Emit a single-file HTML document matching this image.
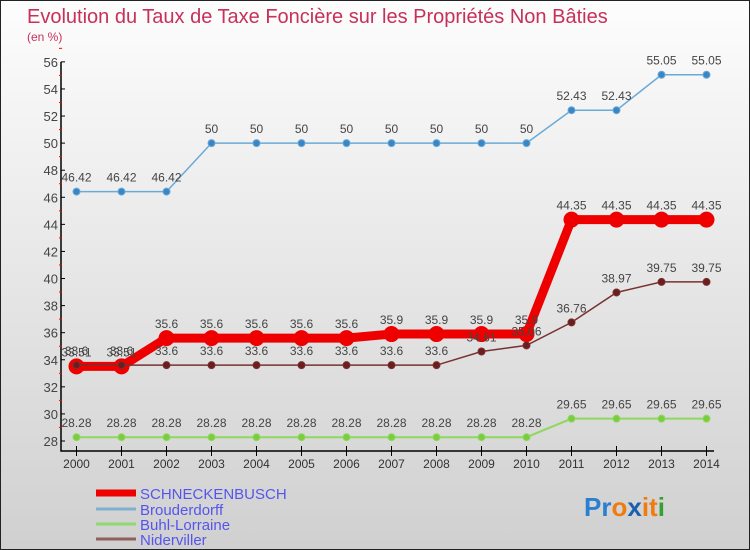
<!DOCTYPE html>
<html><head><meta charset="utf-8"><style>
body{margin:0}
#c{width:750px;height:550px;position:relative;overflow:hidden;box-sizing:border-box;border:1px solid #222;background:linear-gradient(#fdfdfd,#d0d0d0);font-family:"Liberation Sans",sans-serif}
</style></head><body>
<div id="c">
<svg id="s" width="750" height="550" style="position:absolute;left:0;top:0">
<text x="26" y="22" font-size="20" fill="#c8305a">Evolution du Taux de Taxe Foncière sur les Propriétés Non Bâties</text>
<text x="26" y="40" font-size="12" fill="#c8305a">(en %)</text>
<g id="ax"></g><g id="ser"></g>
<text x="583" y="515" font-size="26" font-weight="bold"><tspan fill="#2a7fd0">Pr</tspan><tspan fill="#f07c10">o</tspan><tspan fill="#1a5fb0">x</tspan><tspan fill="#f07c10">it</tspan><tspan fill="#38a030">i</tspan></text>
</svg>
</div>
<script>
const years=[2000,2001,2002,2003,2004,2005,2006,2007,2008,2009,2010,2011,2012,2013,2014];
const yTicks=[28,30,32,34,36,38,40,42,44,46,48,50,52,54,56];
const schneck=[33.51,33.51,35.6,35.6,35.6,35.6,35.6,35.9,35.9,35.9,35.9,44.35,44.35,44.35,44.35];
const brouder=[46.42,46.42,46.42,50,50,50,50,50,50,50,50,52.43,52.43,55.05,55.05];
const buhl=[28.28,28.28,28.28,28.28,28.28,28.28,28.28,28.28,28.28,28.28,28.28,29.65,29.65,29.65,29.65];
const nider=[33.6,33.6,33.6,33.6,33.6,33.6,33.6,33.6,33.6,34.61,35.06,36.76,38.97,39.75,39.75];
const names=["SCHNECKENBUSCH","Brouderdorff","Buhl-Lorraine","Niderviller"];
const NS="http://www.w3.org/2000/svg";
const X=i=>75.5+i*45, Y=v=>440-(v-28)*13.54;
function mk(p,t,a){const e=document.createElementNS(NS,t);for(const k in a)e.setAttribute(k,a[k]);p.appendChild(e);return e;}
const ax=document.getElementById('ax'),ser=document.getElementById('ser'),svg=document.getElementById('s');
let l=mk(ax,'path',{d:`M60,${Y(56)}V450H713`,stroke:'#000','stroke-width':1.5,fill:'none'});


yTicks.forEach(v=>{
 mk(ax,'line',{x1:60,x2:64,y1:Y(v),y2:Y(v),stroke:'#000'});
 mk(ax,'line',{x1:58,x2:61,y1:Y(v+1),y2:Y(v+1),stroke:'#f00'});
 const t=mk(ax,'text',{x:57,y:Y(v)+5,'text-anchor':'end','font-size':13,fill:'#444'});t.textContent=v;
 
 
});
years.forEach((y,i)=>{
 mk(ax,'line',{x1:X(i),x2:X(i),y1:445,y2:455,stroke:'#000'});
 const t=mk(ax,'text',{x:X(i),y:467,'text-anchor':'middle','font-size':12,fill:'#333'});t.textContent=y;
 
 
});
function series(vals,color,w,r,dot,name){
 const g=mk(ser,'g',{});
 
 
 mk(g,'polyline',{points:vals.map((v,i)=>X(i)+','+Y(v)).join(' '),fill:'none',stroke:color,'stroke-width':w});
 vals.forEach((v,i)=>{
  const c=mk(g,'circle',{cx:X(i),cy:Y(v),r:r,fill:dot,stroke:color});
  
  
  const t=mk(g,'text',{x:X(i),y:Y(v)-10,'text-anchor':'middle','font-size':12,fill:'#444'});t.textContent=v;
 });
}
series(buhl,'#8fd860',2,3.5,'#7ccc40','series-buhl-lorraine');
series(brouder,'#6aaad8',1.5,3.5,'#3a86c4','series-brouderdorff');
series(schneck,'#ee0000',9,7.5,'#ee0000','series-schneckenbusch');
series(nider,'#7a3030',1.5,3.5,'#6a1e1e','series-niderviller');
const lc=['#ee0000','#7fb0d0','#90d870','#906060'],lw=[7,3,3,3],ly=[492,508,523,538];
names.forEach((n,i)=>{
 const g=mk(svg,'g',{});
 
 
 mk(g,'line',{x1:95,x2:135,y1:ly[i],y2:ly[i],stroke:lc[i],'stroke-width':lw[i]});
 const t=mk(g,'text',{x:139,y:ly[i]+6,'font-size':15,fill:'#5555ee'});t.textContent=n;
});
</script>
</body></html>
